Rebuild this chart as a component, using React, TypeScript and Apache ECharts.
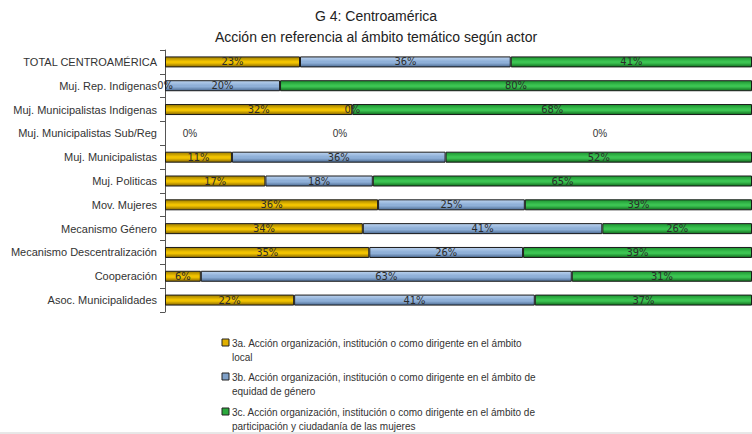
import React, { useEffect, useRef } from "react";
import * as echarts from "echarts";

const categories = [
  "TOTAL CENTROAMÉRICA",
  "Muj. Rep. Indigenas",
  "Muj. Municipalistas Indigenas",
  "Muj. Municipalistas Sub/Reg",
  "Muj. Municipalistas",
  "Muj. Politicas",
  "Mov. Mujeres",
  "Mecanismo Género",
  "Mecanismo Descentralización",
  "Cooperación",
  "Asoc. Municipalidades",
];

const seriesNames = [
  "3a. Acción organización, institución o como dirigente en el ámbito\nlocal",
  "3b. Acción organización, institución o como dirigente en el ámbito de\nequidad de género",
  "3c. Acción organización, institución o como dirigente en el ámbito de\nparticipación y ciudadanía de las mujeres",
];

const localValues = [23.0, 0, 31.9, 0, 11.4, 17.1, 36.3, 33.7, 34.8, 6.1, 22.0];
const generoValues = [35.9, 19.6, 0, 0, 36.4, 18.3, 25.0, 40.8, 26.2, 63.2, 41.0];
const participacionValues = [41.1, 80.4, 68.1, 0, 52.2, 64.6, 38.7, 25.5, 39.0, 30.7, 37.0];

const grad = (top: string, mid: string, bottom: string) =>
  new echarts.graphic.LinearGradient(0, 0, 0, 1, [
    { offset: 0, color: top },
    { offset: 0.45, color: mid },
    { offset: 0.6, color: mid },
    { offset: 1, color: bottom },
  ]);

export default function App() {
  const ref = useRef<HTMLDivElement>(null);
  useEffect(() => {
    if (!ref.current) return;
    const chart = echarts.init(ref.current, undefined, { renderer: "svg" });
    const fills = [
      grad("#9c7c00", "#f2c300", "#866600"),
      grad("#bcd3ef", "#8fb0d8", "#4b6a92"),
      grad("#1c9430", "#3cc452", "#116c1e"),
    ];
    const swatch = ["#e0b000", "#7fa0c8", "#2aa83c"];
    const emptyOffsets = [25, 175, 435];
    const allValues = [localValues, generoValues, participacionValues];
    const labelFont = {
      fontFamily: "'Liberation Sans Narrow', 'DejaVu Sans Condensed', 'Liberation Sans', sans-serif",
      fontSize: 11,
      color: "#2b2b2b",
    };
    const series = allValues.map((vals, si) => ({
      name: seriesNames[si],
      type: "bar",
      stack: "total",
      barWidth: 11,
      itemStyle: { color: fills[si], borderColor: "#1a1a1a", borderWidth: 1 },
      label: {
        show: true,
        position: "inside",
        formatter: (p: any) => Math.round(p.value) + "%",
        ...labelFont,
      },
      data: vals.map((v, i) => {
        const allZero = allValues.every((a) => a[i] === 0);
        if (allZero) {
          return {
            value: v,
            itemStyle: { borderWidth: 0 },
            label: {
              offset: [emptyOffsets[si], 0],
              fontFamily: "'Liberation Sans', Arial, sans-serif",
              fontSize: 10,
              color: "#333",
            },
          };
        }
        if (v === 0) {
          return { value: v, itemStyle: { borderWidth: 0 } };
        }
        return v;
      }),
    }));

    const legendGraphics: any[] = [];
    const legendTop = [339, 373, 408];
    seriesNames.forEach((name, i) => {
      legendGraphics.push({
        type: "rect",
        shape: { x: 222, y: legendTop[i], width: 7, height: 7 },
        style: { fill: swatch[i], stroke: "#222", lineWidth: 1 },
      });
      legendGraphics.push({
        type: "text",
        x: 232,
        y: legendTop[i] - 3,
        style: {
          text: name,
          fontFamily: "'Liberation Sans', Arial, sans-serif",
          fontSize: 10,
          lineHeight: 14,
          fill: "#333",
        },
      });
    });
    legendGraphics.push({
      type: "line",
      shape: { x1: 0, y1: 433, x2: 752, y2: 433 },
      style: { stroke: "#d0d0d0", lineWidth: 1 },
    });

    chart.setOption({
      animation: false,
      backgroundColor: "#ffffff",
      title: {
        text: "G 4: Centroamérica\nAcción en referencia al ámbito temático según actor",
        left: "center",
        top: 0,
        textStyle: {
          fontFamily: "'Liberation Sans', Arial, sans-serif",
          fontSize: 14,
          fontWeight: "normal",
          color: "#222",
          lineHeight: 21,
        },
      },
      legend: { show: false },
      grid: { left: 165, right: 0, top: 50, bottom: 122, containLabel: false },
      xAxis: {
        type: "value",
        min: 0,
        max: 100,
        show: false,
      },
      yAxis: {
        type: "category",
        inverse: true,
        data: categories,
        axisLine: { show: true, lineStyle: { color: "#555", width: 1 } },
        axisTick: { show: true, length: 5, lineStyle: { color: "#555" } },
        axisLabel: {
          margin: 8,
          fontFamily: "'Liberation Sans', Arial, sans-serif",
          fontSize: 11,
          color: "#333",
        },
      },
      graphic: legendGraphics,
      series,
    });
    return () => chart.dispose();
  }, []);
  return (
    <div
      ref={ref}
      style={{ position: "absolute", left: 0, top: 0, width: 752, height: 434 }}
    />
  );
}
